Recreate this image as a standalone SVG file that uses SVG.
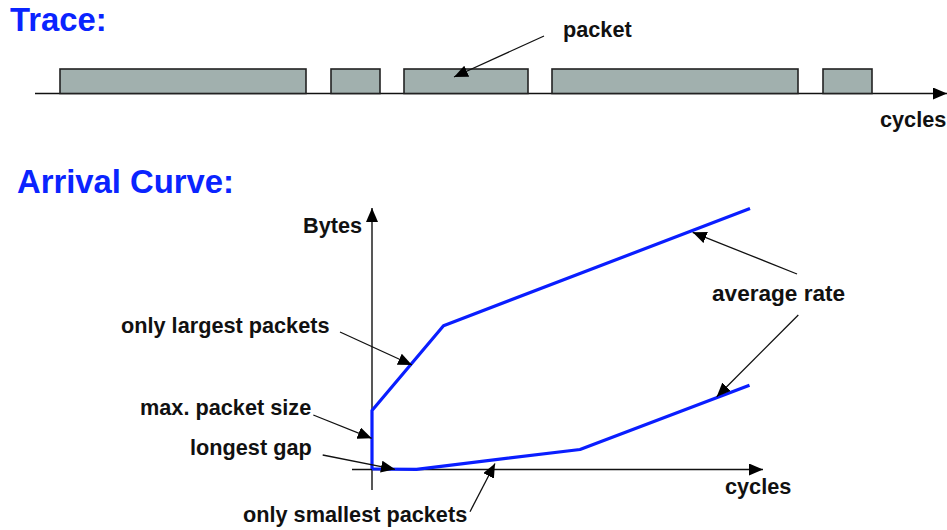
<svg xmlns="http://www.w3.org/2000/svg" width="947" height="530" viewBox="0 0 947 530">
<style>
.title{font-family:"Liberation Sans",Arial,sans-serif;font-weight:bold;font-size:32.8px;fill:#0a24ff}
.lbl{font-family:"Liberation Sans",Arial,sans-serif;font-weight:bold;font-size:21.7px;fill:#111}
.pkt{fill:#a1b0ae;stroke:#222;stroke-width:1.6}
.ax{stroke:#111;stroke-width:1.4;fill:none}
.ptr{stroke:#111;stroke-width:1.3;fill:none;marker-end:url(#ah)}
.curve{stroke:#0a1eff;stroke-width:3.2;fill:none;stroke-linejoin:round}
</style>
<defs>
<marker id="ah" markerUnits="userSpaceOnUse" markerWidth="16" markerHeight="12" refX="14" refY="6" orient="auto">
<path d="M0,0 L14,6 L0,12 Z" fill="#000"/>
</marker>
</defs>
<text class="title" x="10" y="31">Trace:</text>
<text class="title" x="17" y="193">Arrival Curve:</text>
<g id="trace-axis">
<line class="ax" x1="35" y1="93.5" x2="947" y2="93.5" marker-end="url(#ah)"/>
<text class="lbl" x="880" y="127">cycles</text>
</g>
<g id="packets">
<rect class="pkt" x="60" y="69" width="246" height="24.5"/>
<rect class="pkt" x="331" y="69" width="49" height="24.5"/>
<rect class="pkt" x="404" y="69" width="124" height="24.5"/>
<rect class="pkt" x="552" y="69" width="246" height="24.5"/>
<rect class="pkt" x="823" y="69" width="49" height="24.5"/>
</g>
<g id="packet-label">
<text class="lbl" x="563" y="37">packet</text>
</g>
<g id="axes">
<line class="ax" x1="372" y1="490" x2="372" y2="208" marker-end="url(#ah)"/>
<line class="ax" x1="352" y1="469.5" x2="763" y2="469.5" marker-end="url(#ah)"/>
<text class="lbl" x="303" y="233">Bytes</text>
<text class="lbl" x="725" y="494">cycles</text>
</g>
<g id="upper-curve">
<polyline class="curve" points="372,469 372,410.5 443.5,325.7 750,208.5"/>
</g>
<g id="lower-curve">
<polyline class="curve" points="372,469 416.5,469.3 580,449.5 749.5,385.3"/>
</g>
<g id="labels">
<text class="lbl" x="712" y="301" style="font-size:22.6px">average rate</text>
<text class="lbl" x="121" y="333">only largest packets</text>
<text class="lbl" x="140" y="415">max. packet size</text>
<text class="lbl" x="190" y="455">longest gap</text>
<text class="lbl" x="243" y="522">only smallest packets</text>
</g>
<g id="connectors">
<line class="ptr" x1="544" y1="36" x2="454" y2="77"/>
<line class="ptr" x1="797" y1="274" x2="692.7" y2="232.3"/>
<line class="ptr" x1="798.3" y1="315" x2="716.7" y2="396.7"/>
<line class="ptr" x1="340" y1="332" x2="412" y2="365"/>
<line class="ptr" x1="313.3" y1="415" x2="371.7" y2="438.3"/>
<line class="ptr" x1="322.7" y1="455" x2="395" y2="469.3"/>
<line class="ptr" x1="470" y1="511.7" x2="495" y2="463.5"/>
</g>
</svg>
